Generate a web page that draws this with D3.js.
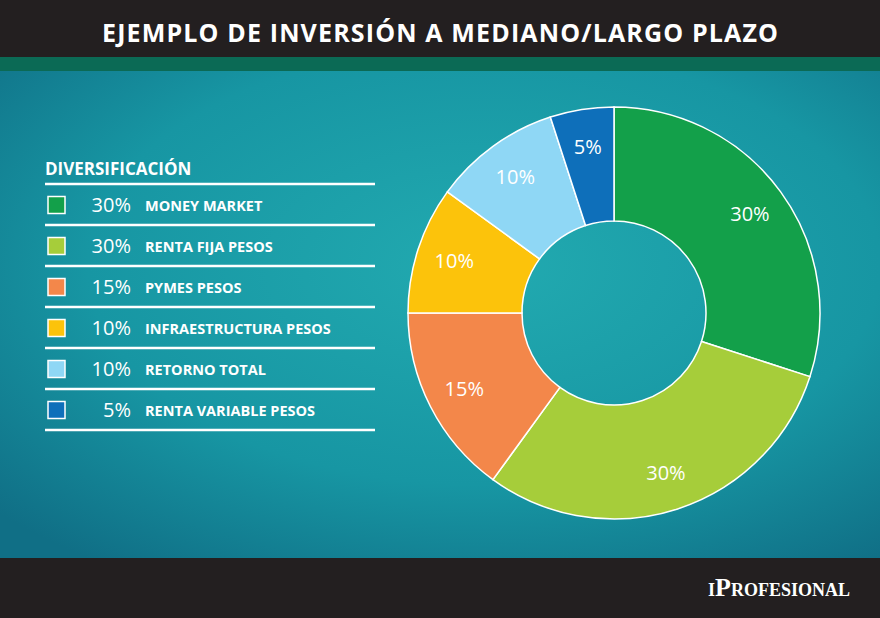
<!DOCTYPE html>
<html><head><meta charset="utf-8">
<script src="https://cdn.jsdelivr.net/npm/d3@7"></script>
<style>body{margin:0;background:#231f20}svg{display:block}</style>
</head><body><div id="chart"></div>
<script>
const categories = ['MONEY MARKET','RENTA FIJA PESOS','PYMES PESOS','INFRAESTRUCTURA PESOS','RETORNO TOTAL','RENTA VARIABLE PESOS'];
const values = [30, 30, 15, 10, 10, 5];
const colors = ['#13a04a','#a6cd3a','#f3874a','#fcc30b','#8fd7f5','#0e6fba'];

const W = 880, H = 618;
const svg = d3.select('#chart').append('svg').attr('width', W).attr('height', H);

const defs = svg.append('defs');
const grad = defs.append('radialGradient').attr('id','bg').attr('cx','55%').attr('cy','40%').attr('r','75%');
grad.append('stop').attr('offset','0%').attr('stop-color','#22aab0');
grad.append('stop').attr('offset','60%').attr('stop-color','#1796a3');
grad.append('stop').attr('offset','100%').attr('stop-color','#106f86');

svg.append('rect').attr('width', W).attr('height', H).attr('fill', '#231f20');
svg.append('rect').attr('y', 57).attr('width', W).attr('height', 14).attr('fill', '#0b6a55');
svg.append('rect').attr('y', 71).attr('width', W).attr('height', 487).attr('fill', 'url(#bg)');

svg.append('text').attr('x', W/2).attr('y', 42).attr('text-anchor','middle')
  .attr('fill','#fff').attr('font-family','Open Sans').attr('font-weight',700).attr('font-size',25)
  .attr('textLength', 676).text('EJEMPLO DE  INVERSIÓN A MEDIANO/LARGO PLAZO');

svg.append('text').attr('x', 850).attr('y', 596).attr('text-anchor','end')
  .attr('fill','#fff').attr('font-family','Liberation Serif').attr('font-weight',700).attr('font-size',26)
  .style('font-variant','small-caps').text('iProfesional');

// Legend
const lg = svg.append('g').attr('font-family','Open Sans').attr('fill','#fff');
lg.append('text').attr('x', 45).attr('y', 175).attr('font-weight',700).attr('font-size',17).attr('fill','#fff').text('DIVERSIFICACIÓN');
const rowY = d3.scaleLinear().domain([0, 1]).range([184, 225]);
lg.selectAll('line').data(d3.range(categories.length + 1)).join('line')
  .attr('x1', 45).attr('x2', 375).attr('y1', d => rowY(d)).attr('y2', d => rowY(d))
  .attr('stroke', '#fff').attr('stroke-width', 2.5);
const rows = lg.selectAll('g.row').data(categories).join('g').attr('class','row')
  .attr('transform', (d, i) => `translate(0,${rowY(i) + 21})`);
rows.append('rect').attr('x', 48).attr('y', -8.5).attr('width', 17).attr('height', 17)
  .attr('fill', (d, i) => colors[i]).attr('stroke', '#fff').attr('stroke-width', 1.5);
rows.append('text').attr('x', 131).attr('y', 7).attr('text-anchor','end').attr('font-size', 20)
  .attr('fill','#fff').text((d, i) => values[i] + '%');
rows.append('text').attr('x', 145).attr('y', 6).attr('font-size', 14.5).attr('font-weight',700)
  .attr('fill','#fff').text(d => d);

// Donut
const cx = 614, cy = 313, R = 206, r0 = 92;
const pie = d3.pie().sort(null).value(d => d);
const arc = d3.arc().innerRadius(r0).outerRadius(R);
const labelArc = d3.arc().innerRadius(168).outerRadius(168);
const g = svg.append('g').attr('transform', `translate(${cx},${cy})`);
const arcs = pie(values);
g.selectAll('path').data(arcs).join('path').attr('d', arc)
  .attr('fill', (d, i) => colors[i]).attr('stroke', '#fff').attr('stroke-width', 1.5);
g.selectAll('text').data(arcs).join('text')
  .attr('transform', d => `translate(${labelArc.centroid(d)})`)
  .attr('text-anchor','middle').attr('dy','0.35em')
  .attr('fill','#fff').attr('font-family','Open Sans').attr('font-size', 20)
  .text(d => d.data + '%');
</script></body></html>
